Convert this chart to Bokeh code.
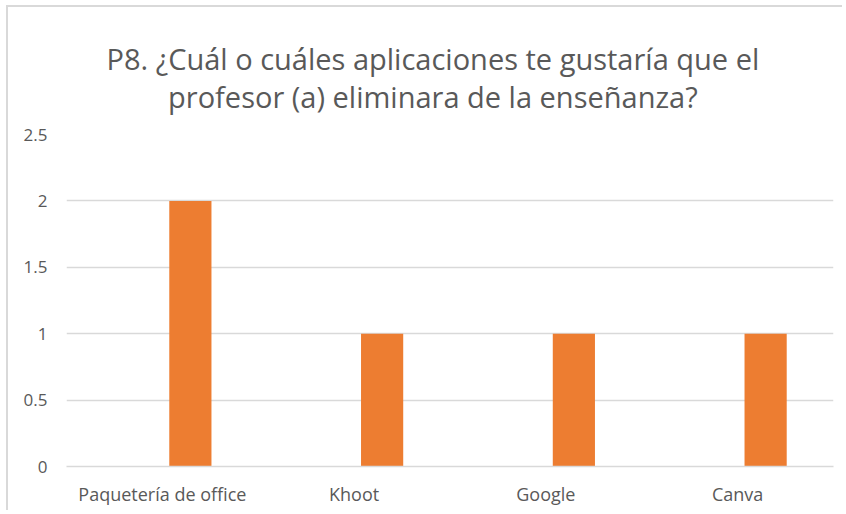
from bokeh.plotting import figure
from bokeh.models import FactorRange, Range1d, FixedTicker, Title
from bokeh.transform import dodge
from bokeh.embed import file_html
from bokeh.resources import INLINE

categories = ["Paquetería de office", "Khoot", "Google", "Canva"]
values = [2, 1, 1, 1]
y_ticks = [0, 0.5, 1, 1.5, 2, 2.5]
title_lines = ["P8. ¿Cuál o cuáles aplicaciones te gustaría que el",
               "profesor (a) eliminara de la enseñanza?"]

FONT = "Open Sans"
GRAY = "#595959"
W, H = 836, 505

p = figure(width=W, height=H, x_range=FactorRange(factors=categories, range_padding=0),
           y_range=Range1d(0, 2.5), output_backend="svg", toolbar_location=None,
           min_border_left=58, min_border_right=11, min_border_top=127, min_border_bottom=46)
p.styles = {"margin-left": "6px", "margin-top": "5px",
            "border-left": "2px solid #D9D9D9", "border-top": "2px solid #D9D9D9"}

p.vbar(x=dodge("x", 0.146, range=p.x_range), top="top", width=0.22,
       source=dict(x=categories, top=values), color="#ED7D31", line_color=None)

p.outline_line_color = None
p.background_fill_color = "white"
p.border_fill_color = "white"

p.xgrid.grid_line_color = None
p.ygrid.grid_line_color = "#D9D9D9"
p.ygrid.grid_line_width = 1.3
p.yaxis.ticker = FixedTicker(ticks=y_ticks)
p.yaxis.axis_line_color = None
p.yaxis.major_tick_line_color = None
p.yaxis.major_tick_out = 0
p.yaxis.major_tick_in = 0
p.yaxis.minor_tick_line_color = None
p.yaxis.major_label_text_font = FONT
p.yaxis.major_label_text_font_size = "17px"
p.yaxis.major_label_text_color = GRAY
p.yaxis.major_label_standoff = 19

p.xaxis.axis_line_color = "#D9D9D9"
p.xaxis.axis_line_width = 1.3
p.xaxis.major_tick_line_color = None
p.xaxis.major_tick_out = 0
p.xaxis.major_tick_in = 0
p.xaxis.minor_tick_line_color = None
p.xaxis.major_label_text_font = FONT
p.xaxis.major_label_text_font_size = "18px"
p.xaxis.major_label_text_color = GRAY
p.xaxis.major_label_standoff = 15

p.add_layout(Title(text="\n".join(title_lines), align="left", text_align="center",
                   vertical_align="top",
                   text_font=FONT, text_font_size="29px", text_line_height=0.97,
                   text_color=GRAY, text_font_style="normal", offset=40, standoff=33),
             "above")

open("out.html", "w").write(file_html(p, INLINE))
